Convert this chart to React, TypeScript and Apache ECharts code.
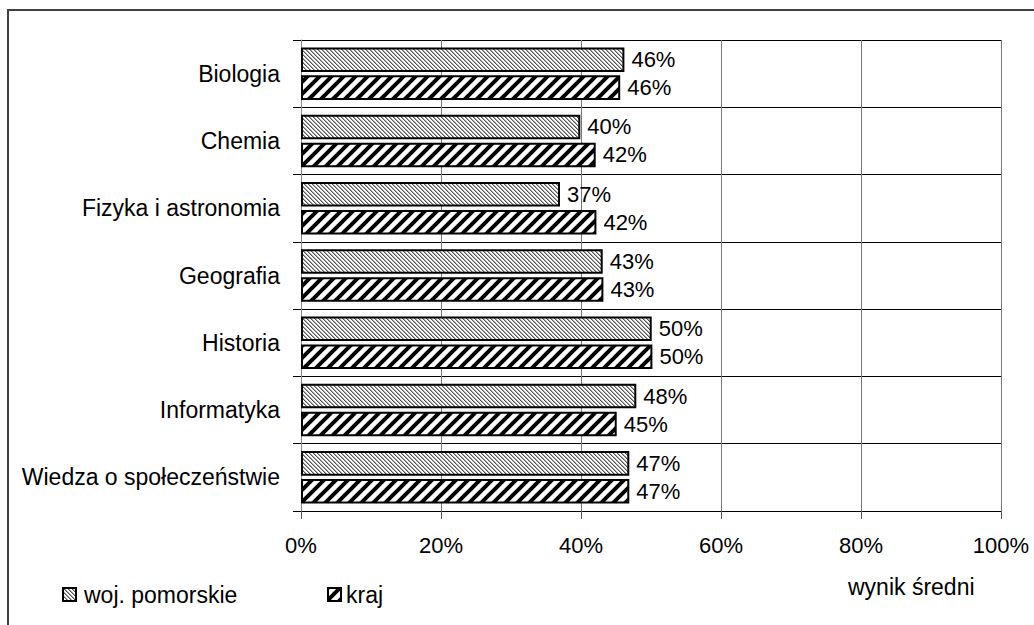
import React, { useEffect, useRef } from "react";
import * as echarts from "echarts";

const categories = [
  "Biologia",
  "Chemia",
  "Fizyka i astronomia",
  "Geografia",
  "Historia",
  "Informatyka",
  "Wiedza o społeczeństwie",
];
const seriesNames = ["woj. pomorskie", "kraj"];
const wojValues = [46.2, 39.9, 37.0, 43.1, 50.1, 47.9, 46.9];
const krajValues = [45.6, 42.1, 42.2, 43.2, 50.2, 45.1, 46.9];
const xTicks = [0, 20, 40, 60, 80, 100];
const axisTitle = "wynik średni";

function makeFine(): HTMLCanvasElement {
  const c = document.createElement("canvas");
  c.width = 4;
  c.height = 4;
  const ctx = c.getContext("2d")!;
  ctx.fillStyle = "#ffffff";
  ctx.fillRect(0, 0, 4, 4);
  ctx.fillStyle = "#555555";
  for (let i = 0; i < 4; i++) ctx.fillRect(i, i, 1, 1);
  ctx.fillStyle = "#aaaaaa";
  for (let i = 0; i < 4; i++) ctx.fillRect((i + 1) % 4, i, 1, 1);
  return c;
}

function makeBold(): HTMLCanvasElement {
  const s = 12;
  const c = document.createElement("canvas");
  c.width = s;
  c.height = s;
  const ctx = c.getContext("2d")!;
  ctx.fillStyle = "#ffffff";
  ctx.fillRect(0, 0, s, s);
  ctx.strokeStyle = "#000000";
  ctx.lineWidth = 4;
  for (const off of [-s, 0, s]) {
    ctx.beginPath();
    ctx.moveTo(off - 2, s + 2);
    ctx.lineTo(off + s + 2, -2);
    ctx.stroke();
  }
  return c;
}

export default function App() {
  const ref = useRef<HTMLDivElement>(null);
  useEffect(() => {
    if (!ref.current) return;
    const chart = echarts.init(ref.current, null, { renderer: "svg" });
    const fine = { image: makeFine(), repeat: "repeat" };
    const bold = { image: makeBold(), repeat: "repeat" };
    const font = "'Liberation Sans', Arial, sans-serif";
    const labelCfg = {
      show: true,
      position: "right",
      distance: 7,
      fontSize: 22,
      fontFamily: font,
      color: "#000",
      formatter: (p: any) => Math.round(p.value) + "%",
    };
    const legendText = { fontSize: 23, fontFamily: font, color: "#000" };
    chart.setOption({
      animation: false,
      backgroundColor: "#ffffff",
      textStyle: { fontFamily: font },
      grid: { left: 301, right: 33, top: 40, bottom: 114 },
      legend: [
        {
          data: [seriesNames[0]],
          left: 62,
          top: 583,
          padding: 0,
          itemWidth: 13,
          itemHeight: 13,
          icon: "rect",
          textStyle: { ...legendText, padding: [0, 0, 0, 3] },
        },
        {
          data: [seriesNames[1]],
          left: 327,
          top: 583,
          padding: 0,
          itemWidth: 13,
          itemHeight: 13,
          icon: "rect",
          textStyle: { ...legendText, padding: [0, 0, 0, 0] },
        },
      ],
      xAxis: {
        type: "value",
        min: xTicks[0],
        max: xTicks[xTicks.length - 1],
        interval: 20,
        axisLine: { show: true, lineStyle: { color: "#000", width: 1 } },
        axisTick: { show: true, length: 8, lineStyle: { color: "#555" } },
        splitLine: { show: true, lineStyle: { color: "#777", width: 1 } },
        axisLabel: {
          formatter: "{value}%",
          fontSize: 22,
          fontFamily: font,
          color: "#000",
          margin: 23,
        },
      },
      yAxis: {
        type: "category",
        data: categories,
        inverse: true,
        axisLine: { show: true, lineStyle: { color: "#888", width: 1 } },
        axisTick: { show: true, length: 8, lineStyle: { color: "#000" } },
        splitLine: { show: true, lineStyle: { color: "#000", width: 1 } },
        axisLabel: { fontSize: 23, fontFamily: font, color: "#000", margin: 21 },
      },
      graphic: [
        {
          type: "rect",
          shape: { x: 8, y: 10, width: 1100, height: 700 },
          style: { fill: "none", stroke: "#404040", lineWidth: 2 },
          silent: true,
        },
        {
          type: "text",
          left: 848,
          top: 575,
          style: { text: axisTitle, fontSize: 23, fontFamily: font, fill: "#000" },
        },
      ],
      series: [
        {
          name: seriesNames[0],
          type: "bar",
          data: wojValues,
          barCategoryGap: "22%",
          barGap: "14%",
          itemStyle: { color: fine, borderColor: "#000", borderWidth: 2 },
          label: labelCfg,
        },
        {
          name: seriesNames[1],
          type: "bar",
          data: krajValues,
          barCategoryGap: "22%",
          barGap: "14%",
          itemStyle: { color: bold, borderColor: "#000", borderWidth: 2 },
          label: labelCfg,
        },
      ],
    });
    return () => chart.dispose();
  }, []);
  return (
    <div
      ref={ref}
      style={{ position: "absolute", left: 0, top: 0, width: 1034, height: 625 }}
    />
  );
}
